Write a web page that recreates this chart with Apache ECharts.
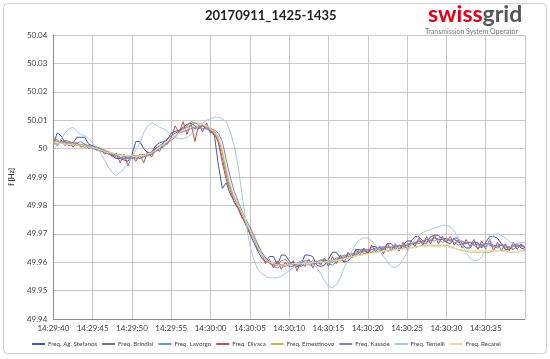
<!DOCTYPE html>
<html><head><meta charset="utf-8">
<script src="https://cdn.jsdelivr.net/npm/echarts@6/dist/echarts.min.js"></script>
<style>html,body{margin:0;padding:0;background:#fff}#c{width:550px;height:359px}</style>
</head><body><div id="c"></div>
<script>
// Sample times: seconds after 14:29:00, one sample every 0.5 s, 14:29:40 .. 14:30:40
const startSecond = 40;
const stepSeconds = 0.5;
const xTickLabels = ['14:29:40','14:29:45','14:29:50','14:29:55','14:30:00','14:30:05','14:30:10','14:30:15','14:30:20','14:30:25','14:30:30','14:30:35',''];
const seriesNames = ['Freq. Ag. Stefanos','Freq. Brindisi','Freq. Lavorgo','Freq. Divaca','Freq. Ernestinovo','Freq. Kassoe','Freq. Temelli','Freq. Recarei'];

// Frequencies in Hz
const agStefanos = [
50.0015,50.0055,50.0045,50.002,50.002,50.002,50.004,50.004,50.004,50.0015,
50.001,50.0005,50,49.999,49.9985,49.9975,49.9965,49.9965,49.996,49.9955,
49.998,50.0025,50.0025,50,49.9985,49.9985,50.001,50.002,50.0025,50.003,
50.0055,50.006,50.0065,50.0075,50.0085,50.009,50.008,50.007,50.008,50.0075,
50.0065,50.0045,49.994,49.986,49.988,49.984,49.9815,49.979,49.976,49.973,
49.97,49.967,49.964,49.9615,49.96,49.962,49.962,49.959,49.9625,49.9625,
49.9605,49.959,49.9585,49.959,49.9625,49.9625,49.962,49.959,49.9585,49.959,
49.961,49.9635,49.9635,49.9615,49.96,49.9605,49.962,49.9645,49.9645,49.963,
49.9635,49.9655,49.9655,49.964,49.9645,49.9665,49.9665,49.965,49.964,49.966,
49.9675,49.9675,49.969,49.969,49.9675,49.967,49.969,49.9695,49.9695,49.968,
49.967,49.9665,49.9685,49.9685,49.9665,49.965,49.965,49.967,49.967,49.965,
49.967,49.969,49.969,49.9685,49.9665,49.9645,49.9645,49.966,49.9665,49.965,
49.9645];
const brindisi = [
50.003,50.0025,50.002,50.0025,50.002,50.0015,50.001,50.0015,50.001,50.0005,
50.0005,50,49.9995,49.9985,49.9985,49.998,49.997,49.997,49.9965,49.997,
49.9965,49.997,49.9975,49.998,49.9975,49.999,50,50.001,50.002,50.0035,
50.0045,50.0055,50.006,50.007,50.0075,50.008,50.007,50.0075,50.008,50.007,
50.006,50.005,50.0025,49.9965,49.9905,49.986,49.9825,49.98,49.977,49.974,
49.9715,49.9685,49.9655,49.963,49.961,49.9595,49.959,49.96,49.959,49.9585,
49.9595,49.96,49.959,49.9585,49.9595,49.9595,49.9605,49.96,49.9595,49.9605,
49.9605,49.96,49.961,49.9615,49.9615,49.9625,49.963,49.9625,49.9635,49.964,
49.9635,49.9645,49.965,49.9645,49.965,49.9655,49.965,49.9655,49.966,49.9655,
49.966,49.9665,49.9665,49.9675,49.967,49.968,49.9675,49.9685,49.968,49.968,
49.9685,49.9675,49.968,49.967,49.9675,49.9665,49.967,49.966,49.9665,49.966,
49.9655,49.9665,49.966,49.9655,49.966,49.965,49.9655,49.9645,49.9655,49.966,
49.965];
const lavorgo = [
50.0015,50.002,50.0025,50.002,50.001,50.0015,50.002,50.001,50.0005,50.001,
50,49.9995,49.999,49.999,49.998,49.9975,49.9975,49.998,49.997,49.9975,
49.9965,49.9975,49.9965,49.997,49.998,49.998,49.999,50,50.001,50.002,
50.0035,50.0045,50.006,50.007,50.008,50.0095,50.009,50.0085,50.008,50.008,
50.007,50.006,50.004,49.999,49.9925,49.987,49.983,49.9805,49.9775,49.9745,
49.9715,49.9685,49.966,49.9635,49.9615,49.96,49.9585,49.958,49.959,49.9595,
49.9585,49.9585,49.9595,49.9605,49.96,49.959,49.959,49.96,49.961,49.9605,
49.9595,49.959,49.96,49.962,49.9625,49.962,49.962,49.9635,49.9645,49.9645,
49.964,49.9635,49.9645,49.9655,49.965,49.964,49.964,49.965,49.966,49.9655,
49.965,49.966,49.967,49.9675,49.9665,49.9665,49.968,49.9685,49.968,49.967,
49.9675,49.968,49.967,49.966,49.9665,49.967,49.967,49.966,49.965,49.9655,
49.9665,49.9665,49.9655,49.965,49.966,49.966,49.965,49.9645,49.9655,49.966,
49.9655];
const divaca = [
50.0025,50.001,50.003,50.001,50.0025,50.0005,50.002,50.0005,50.0015,50,
50.001,49.9995,50,49.998,49.999,49.997,49.9985,49.995,49.998,49.994,
49.9975,49.9955,49.998,49.995,49.999,49.997,50,49.999,50.002,50.0015,
50.004,50.008,50.0055,50.0095,50.005,50.009,50.0025,50.0085,50.006,50.009,
50.0055,50.006,50.002,49.995,49.989,49.9855,49.981,49.979,49.9755,49.974,
49.97,49.9685,49.9645,49.963,49.9595,49.961,49.958,49.9605,49.9575,49.96,
49.9585,49.9605,49.957,49.96,49.9585,49.961,49.958,49.9605,49.959,49.9615,
49.9585,49.962,49.9595,49.9625,49.96,49.9635,49.9615,49.9645,49.9625,49.965,
49.963,49.966,49.9635,49.9655,49.963,49.9665,49.964,49.9665,49.9645,49.967,
49.9645,49.9675,49.9655,49.9685,49.966,49.969,49.9665,49.9695,49.9665,49.969,
49.967,49.969,49.966,49.968,49.965,49.968,49.9655,49.968,49.9645,49.9675,
49.9645,49.968,49.964,49.967,49.964,49.9665,49.964,49.967,49.9645,49.9665,
49.965];
const ernestinovo = [
50.0025,50.0025,50.002,50.002,50.002,50.002,50.0015,50.0015,50.0015,50.001,
50.0005,50.0005,50,49.9995,49.999,49.9985,49.998,49.998,49.9975,49.9975,
49.9975,49.9975,49.9975,49.9975,49.998,49.9985,49.9995,50.0005,50.0015,50.0025,
50.0035,50.0045,50.0055,50.0065,50.0075,50.0085,50.009,50.009,50.0085,50.0075,
50.0065,50.0055,50.0035,49.9985,49.9915,49.986,49.9825,49.98,49.977,49.974,
49.971,49.968,49.965,49.9625,49.961,49.96,49.9595,49.959,49.959,49.959,
49.9595,49.9595,49.9595,49.9595,49.9595,49.9595,49.9595,49.96,49.96,49.96,
49.96,49.9605,49.9605,49.9605,49.961,49.9615,49.962,49.9625,49.9625,49.963,
49.963,49.9635,49.9635,49.964,49.964,49.964,49.9645,49.9645,49.9645,49.965,
49.965,49.965,49.9655,49.9655,49.966,49.966,49.966,49.966,49.966,49.966,
49.966,49.9655,49.965,49.9645,49.964,49.964,49.9635,49.9635,49.9635,49.9635,
49.9635,49.9635,49.964,49.964,49.964,49.964,49.9635,49.9635,49.9635,49.964,
49.964];
const kassoe = [
50.0035,50.003,50.002,50.003,50.0025,50.002,50.002,50.0025,50.0015,50.001,
50.001,50.0005,49.9995,49.9995,49.9985,49.998,49.998,49.997,49.9965,49.9965,
49.997,49.9965,49.9965,49.9975,49.9975,49.998,49.999,50,50.0005,50.002,
50.003,50.004,50.0055,50.006,50.0065,50.007,50.0075,50.0075,50.007,50.007,
50.007,50.0065,50.0055,50.0025,49.996,49.99,49.985,49.9815,49.978,49.975,
49.9725,49.9695,49.9665,49.9635,49.9615,49.96,49.959,49.959,49.9605,49.961,
49.9595,49.959,49.959,49.9595,49.9605,49.9605,49.9595,49.9595,49.9605,49.961,
49.9605,49.9605,49.9615,49.9615,49.962,49.963,49.9625,49.963,49.964,49.964,
49.9645,49.9645,49.964,49.965,49.9655,49.965,49.9655,49.966,49.9655,49.9655,
49.9665,49.9665,49.967,49.9665,49.9675,49.968,49.9675,49.9675,49.9685,49.9685,
49.968,49.9675,49.968,49.9675,49.9665,49.9665,49.967,49.967,49.966,49.966,
49.9665,49.966,49.9655,49.966,49.9665,49.9655,49.965,49.9655,49.966,49.9655,
49.9655];
const temelli = [
49.9995,50.0015,50.0035,50.0055,50.007,50.0075,50.006,50.005,50.0045,50.0035,
50.002,50.0005,49.9985,49.996,49.9935,49.9915,49.9905,49.9915,49.993,49.9945,
49.997,49.9995,50.002,50.0055,50.008,50.009,50.0085,50.0075,50.007,50.006,
50.005,50.004,50.0035,50.0035,50.004,50.005,50.0065,50.008,50.009,50.01,
50.0105,50.011,50.011,50.0105,50.0095,50.006,50.001,49.994,49.984,49.974,
49.966,49.961,49.9575,49.956,49.955,49.9545,49.9545,49.9545,49.955,49.956,
49.957,49.958,49.959,49.9595,49.96,49.96,49.9595,49.958,49.956,49.9535,
49.9515,49.951,49.952,49.9545,49.958,49.961,49.964,49.9665,49.968,49.9685,
49.9685,49.9675,49.966,49.964,49.962,49.96,49.9585,49.958,49.959,49.961,
49.9635,49.966,49.968,49.9695,49.9705,49.971,49.9715,49.972,49.9725,49.973,
49.973,49.9725,49.971,49.9685,49.966,49.9635,49.9615,49.9605,49.9605,49.962,
49.9645,49.9675,49.9695,49.97,49.9695,49.9685,49.9675,49.9665,49.9665,49.967,
49.967];
const recarei = [
50.002,50.002,50.002,50.0015,50.0015,50.0015,50.001,50.001,50.001,50.0005,
50.0005,50,49.9995,49.999,49.9985,49.9985,49.998,49.9975,49.9975,49.9975,
49.9975,49.997,49.9975,49.9975,49.998,49.9985,49.9995,50.0005,50.0015,50.0025,
50.0035,50.0045,50.0055,50.0065,50.007,50.0075,50.008,50.0085,50.0085,50.008,
50.007,50.006,50.004,50,49.9935,49.9875,49.9835,49.9805,49.9775,49.9745,
49.9715,49.9685,49.9655,49.963,49.961,49.96,49.9595,49.959,49.959,49.959,
49.959,49.9595,49.9595,49.9595,49.9595,49.9595,49.96,49.96,49.96,49.96,
49.9605,49.9605,49.9605,49.961,49.961,49.9615,49.962,49.962,49.9625,49.9625,
49.963,49.963,49.9635,49.9635,49.964,49.964,49.964,49.9645,49.9645,49.9645,
49.965,49.965,49.965,49.9655,49.9655,49.9655,49.9655,49.9655,49.9655,49.9655,
49.9655,49.965,49.965,49.9645,49.9645,49.964,49.964,49.964,49.964,49.964,
49.964,49.964,49.964,49.964,49.964,49.9635,49.9635,49.9635,49.9635,49.964,
49.964];

const seriesValues = [agStefanos, brindisi, lavorgo, divaca, ernestinovo, kassoe, temelli, recarei];
const seriesColors = ['#3a5ba6','#727488','#5b9bd5','#c0504d','#bcbd62','#8a80b4','#a9c6e4','#ead8a6'];

const chart = echarts.init(document.getElementById('c'), null, {renderer: 'canvas'});
const font = 'Lato, "Open Sans", sans-serif';
chart.setOption({
  backgroundColor: '#ffffff',
  animation: false,
  textStyle: {fontFamily: font},
  graphic: [
    {type: 'rect', shape: {x: 3.5, y: 3.5, width: 543, height: 350, r: 4}, style: {fill: 'none', stroke: '#d0d0d0', lineWidth: 1}, silent: true},
    {type: 'text', left: 205, top: 9, style: {text: '20170911_1425-1435', font: 'bold 13px ' + font, fill: '#222'}},
    {type: 'text', left: 428, top: 3, style: {text: '{a|swiss}{b|grid}', rich: {a: {fontSize: 23, fontWeight: 'bold', fill: '#e3001b', fontFamily: font}, b: {fontSize: 23, fontWeight: 'bold', fill: '#555555', fontFamily: font}}}},
    {type: 'text', left: 425, top: 28, style: {text: 'Transmission System Operator', font: '7px ' + font, fill: '#777'}}
  ],
  legend: {
    top: 341, left: 32, width: 510, padding: 0,
    itemWidth: 13, itemHeight: 2, itemGap: 5,
    icon: 'rect',
    textStyle: {fontSize: 6.2, color: '#404040', fontFamily: font, padding: [0, 0, 0, -2]},
    data: seriesNames
  },
  grid: {left: 47, right: 25, top: 35, bottom: 40, containLabel: false},
  xAxis: {
    type: 'value', min: 40, max: 100, interval: 5,
    axisLine: {show: true, onZero: false, lineStyle: {color: '#8c8c8c', width: 1}},
    axisTick: {show: false},
    splitLine: {show: true, lineStyle: {color: '#c8c8c8', width: 1}},
    axisLabel: {fontSize: 8, color: '#404040', margin: 5, fontFamily: font,
      formatter: v => xTickLabels[Math.round((v - 40) / 5)] || ''}
  },
  yAxis: {
    type: 'value', min: 49.94, max: 50.04, interval: 0.01,
    name: 'f [Hz]', nameLocation: 'middle', nameGap: 26,
    nameTextStyle: {fontSize: 7.5, fontWeight: 'bold', color: '#404040', fontFamily: font},
    axisLine: {show: true, lineStyle: {color: '#8c8c8c', width: 1}},
    axisTick: {show: false},
    splitLine: {show: true, lineStyle: {color: '#c8c8c8', width: 1}},
    axisLabel: {fontSize: 8, color: '#404040', margin: 6, fontFamily: font,
      formatter: v => String(+(+v).toFixed(2))}
  },
  series: seriesNames.map((name, k) => ({
    name: name, type: 'line', showSymbol: false, symbol: 'none',
    lineStyle: {width: 1, color: seriesColors[k]},
    itemStyle: {color: seriesColors[k]},
    data: seriesValues[k].map((v, i) => [startSecond + i * stepSeconds, v])
  }))
});
</script></body></html>
